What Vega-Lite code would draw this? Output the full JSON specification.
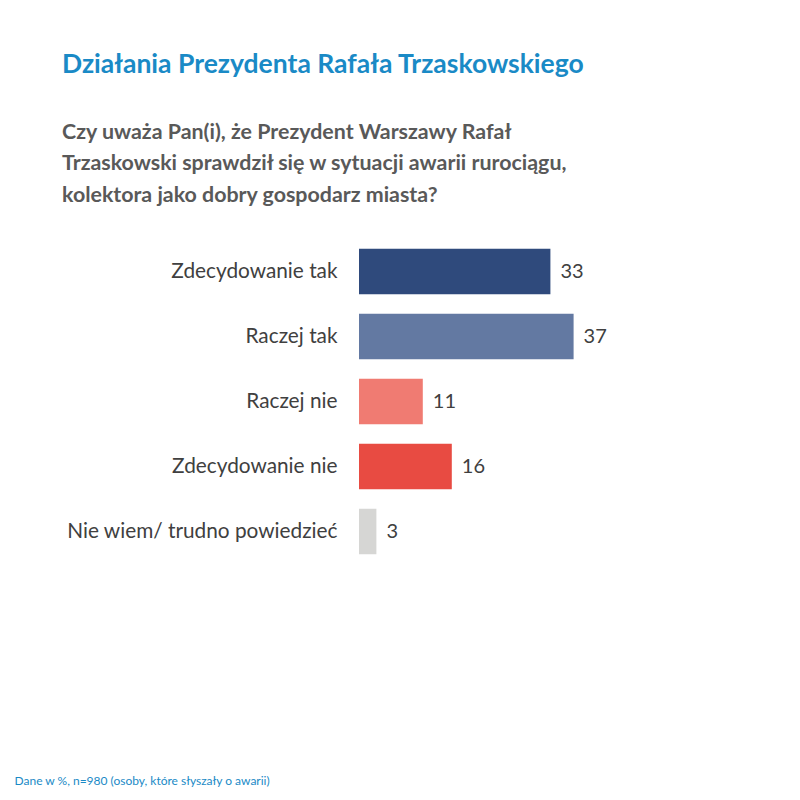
{
  "$schema": "https://vega.github.io/schema/vega-lite/v6.json",
  "autosize": {"type": "none"},
  "width": 290,
  "height": 325,
  "padding": {"left": 359, "top": 239, "right": 151, "bottom": 236},
  "background": "white",
  "title": {
    "text": "Działania Prezydenta Rafała Trzaskowskiego",
    "subtitle": [
      "Czy uważa Pan(i), że Prezydent Warszawy Rafał",
      "Trzaskowski sprawdził się w sytuacji awarii rurociągu,",
      "kolektora jako dobry gospodarz miasta?"
    ],
    "anchor": "start",
    "frame": "group",
    "dx": -297,
    "offset": 33,
    "font": "Lato",
    "fontSize": 26.5,
    "fontWeight": "bold",
    "color": "#1a8ac6",
    "subtitleFont": "Lato",
    "subtitleFontSize": 21.4,
    "subtitleFontWeight": "bold",
    "subtitleColor": "#595959",
    "subtitleLineHeight": 31.5,
    "subtitlePadding": 43
  },
  "data": {
    "values": [
      {"odpowiedz": "Zdecydowanie tak", "procent": 33},
      {"odpowiedz": "Raczej tak", "procent": 37},
      {"odpowiedz": "Raczej nie", "procent": 11},
      {"odpowiedz": "Zdecydowanie nie", "procent": 16},
      {"odpowiedz": "Nie wiem/ trudno powiedzieć", "procent": 3}
    ]
  },
  "encoding": {
    "y": {
      "field": "odpowiedz",
      "type": "nominal",
      "sort": null,
      "title": null,
      "scale": {"paddingInner": 0.3, "paddingOuter": 0.15},
      "axis": {
        "domain": false,
        "ticks": false,
        "labelPadding": 22,
        "labelFont": "Lato",
        "labelFontSize": 20.8,
        "labelColor": "#404040",
        "labelLimit": 400
      }
    },
    "x": {
      "field": "procent",
      "type": "quantitative",
      "scale": {"domain": [0, 50]},
      "axis": {
        "grid": false,
        "domain": false,
        "ticks": false,
        "labels": false,
        "title": "Dane w %, n=980 (osoby, które słyszały o awarii)",
        "titleFont": "Lato",
        "titleFontSize": 12,
        "titleFontWeight": "normal",
        "titleColor": "#1a8ac6",
        "titleAlign": "left",
        "titleAnchor": "start",
        "titleBaseline": "middle",
        "titleX": -345,
        "titleY": 216
      }
    }
  },
  "layer": [
    {
      "mark": {"type": "bar"},
      "encoding": {
        "color": {
          "field": "odpowiedz",
          "type": "nominal",
          "legend": null,
          "scale": {
            "domain": ["Zdecydowanie tak", "Raczej tak", "Raczej nie", "Zdecydowanie nie", "Nie wiem/ trudno powiedzieć"],
            "range": ["#2f4a7c", "#6379a2", "#f07b72", "#e84b42", "#d6d6d4"]
          }
        }
      }
    },
    {
      "mark": {"type": "text", "align": "left", "dx": 10, "font": "Lato", "fontSize": 20, "color": "#404040"},
      "encoding": {"text": {"field": "procent", "type": "quantitative"}}
    }
  ],
  "config": {"view": {"stroke": null}}
}
